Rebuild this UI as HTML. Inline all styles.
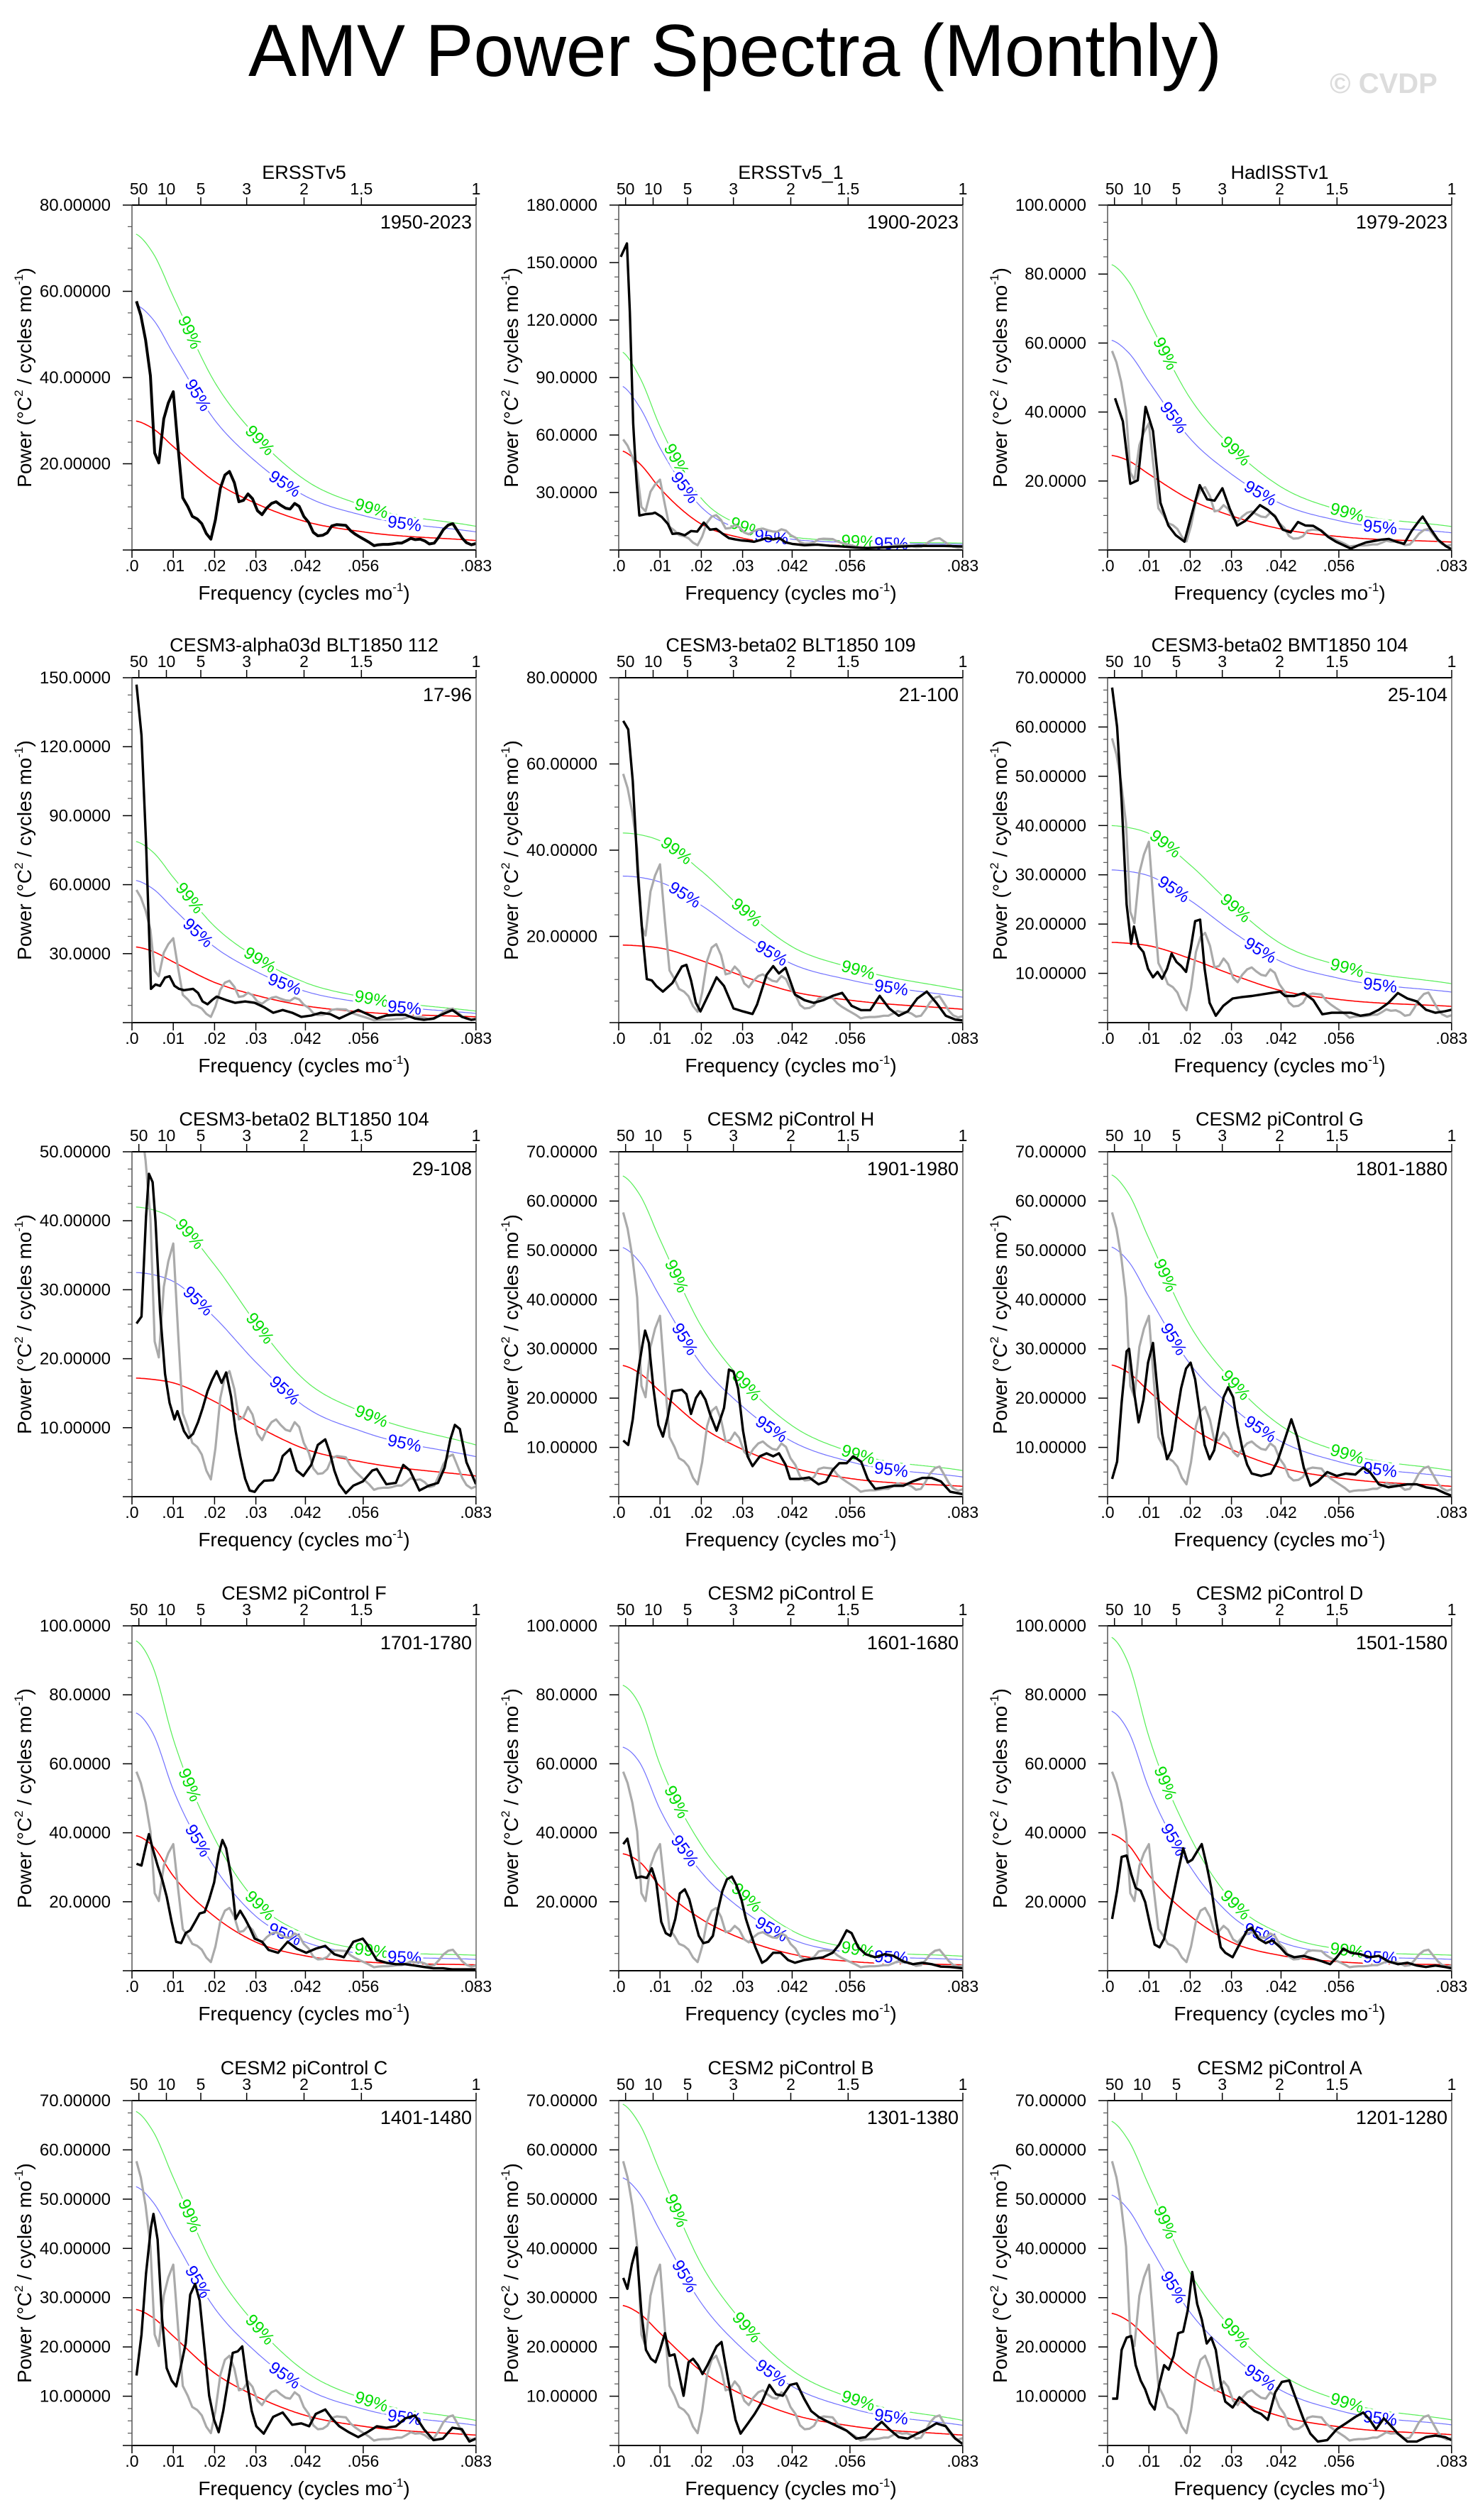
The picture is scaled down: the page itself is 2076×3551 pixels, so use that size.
<!DOCTYPE html>
<html><head><meta charset="utf-8">
<style>
html,body{margin:0;padding:0;background:#fff;}
svg{display:block;font-family:"Liberation Sans",sans-serif;}
</style></head>
<body>
<svg id="fig" xmlns="http://www.w3.org/2000/svg" width="2076" height="3551" viewBox="0 0 2076 3551">
<rect x="0" y="0" width="2076" height="3551" fill="#fff"/>
<text x="1036" y="107" font-size="104" text-anchor="middle" textLength="1372" lengthAdjust="spacingAndGlyphs">AMV Power Spectra (Monthly)</text>
<text x="1950" y="131" font-size="40" font-weight="bold" fill="#dcdcdc" text-anchor="middle">© CVDP</text>
</svg>
<script>
// ---------- data ----------
const CF = [0, 0.005, 0.01, 0.02, 0.03, 0.042, 0.056, 0.0833];
const periodTicks = [50, 10, 5, 3, 2, 1.5, 1];
const freqTicks = [0, 0.01, 0.02, 0.03, 0.042, 0.056, 0.0833];
const freqTickLabels = [".0", ".01", ".02", ".03", ".042", ".056", ".083"];

const f_p1 = [.00108,.00215,.0033,.00446,.0055,.0065,.0077,.0088,.0100,.0112,.0123,.0135,.0146,.0158,.0169,.018,.0191,.0202,.0214,.0225,.0236,.0248,.0259,.0270,.0281,.0292,.0304,.0315,.0326,.0338,.0349,.0360,.0372,.0383,.0394,.0405,.0416,.0428,.0439,.045,.0462,.0473,.0484,.0496,.0507,.0518,.0529,.0540,.0552,.0563,.0574,.0586,.0596,.0608,.062,.063,.0642,.0653,.0664,.0675,.0686,.0698,.0709,.072,.0732,.0743,.0754,.0766,.0777,.0788,.08,.081,.0822,.0833];
const v_p1 = [57.7,54.4,48.7,40.4,22.5,20.2,30.4,34.1,36.7,23.4,12.1,10.1,7.8,7.2,6.1,3.8,2.5,7.0,14.3,17.4,18.2,15.6,11.2,11.5,13.0,11.9,9.1,8.2,9.7,10.8,11.2,10.4,9.7,9.5,10.8,10.1,7.8,6.4,4.1,3.3,3.4,4.0,5.6,5.9,5.8,5.7,4.5,3.7,3.0,2.4,1.8,1.0,1.2,1.3,1.3,1.4,1.6,1.6,2.1,2.7,2.4,2.5,2.1,1.4,1.6,3.0,4.7,5.8,6.1,4.5,2.7,1.7,1.2,1.5];
const red_p1 = [30,28.2,24,15.9,10.8,6.6,4.2,2.2];
const blue_p1 = [57,53.6,45.6,30.2,20.5,12.5,8,4.2];
const green_p1 = [73.5,69,58.8,39,26.5,16.2,10.3,5.5];

const f_p2 = [.0005,.002,.0027,.0035,.0043,.005,.0066,.0081,.0088,.0104,.0119,.013,.0145,.016,.0175,.019,.0206,.0221,.0236,.0252,.0267,.0282,.0297,.0313,.0328,.0343,.0358,.0374,.0389,.0404,.042,.045,.0481,.0511,.0542,.0572,.0603,.0633,.0664,.0694,.0725,.0755,.0786,.0833];
const v_p2 = [153,160,124,66,36.6,18,18.7,19,19.5,17.3,13.6,8.4,8.7,7.7,9.9,9.6,14.3,10.6,11,8.4,6.2,5.5,5,4.7,4.3,5.2,6.2,5.5,6.2,4,3.2,2.5,2.8,2.2,1.8,1.3,1,1.3,1.6,1.9,2.2,2.1,2.1,1.9];
const red_p2 = [52,45.2,32.2,13.5,6.2,3.4,2.3,1.8];
const blue_p2 = [86,74.8,53.3,22.4,10.3,5.6,3.9,3];
const green_p2 = [104,90.5,64.5,27,12.5,6.8,4.7,3.6];

const f_p3 = [.0018,.0037,.0055,.0073,.0092,.011,.0128,.0147,.0165,.0186,.0204,.0223,.0241,.0259,.0278,.0296,.0314,.0333,.0351,.0369,.0388,.0406,.0424,.0443,.0461,.0479,.0498,.0516,.0534,.0553,.0571,.0589,.0608,.0626,.0644,.0663,.0681,.0699,.0718,.0736,.0754,.0763,.0781,.08,.0818,.0833];
const v_p3 = [44,37.3,19.2,20.2,41.5,34.5,13.7,7.1,4.3,2.4,10.4,18.8,14.7,14.3,17.9,11.9,7.1,8.4,10.6,13,11.6,9.6,5.9,5.1,8.1,7.1,7,5.7,3.8,2.4,1.4,0.4,1.4,2.2,2.6,3,3.2,2.4,1.8,5.5,8.4,9.7,6.3,3,1.2,0.2];
const red_p3 = [27.5,25.9,22,14.6,9.9,6.1,3.9,2.3];
const blue_p3 = [61,57.3,48.8,32.3,22,13.4,8.5,5];
const green_p3 = [83,78,66.4,44,29.9,18.3,11.6,6.8];

const f_p4 = [.0011,.0023,.0034,.0046,.0057,.0068,.008,.0091,.0103,.0114,.0126,.0148,.016,.0171,.0183,.0194,.0205,.0228,.025,.0274,.0297,.032,.0342,.0365,.0388,.041,.0434,.0457,.048,.0502,.0525,.0548,.057,.0593,.0616,.0639,.0662,.0685,.0707,.073,.0753,.0776,.0799,.0822,.0833];
const v_p4 = [147,125,78.5,14.7,16.6,16,19.6,20.2,16,14.7,14.1,14.7,12.9,9.2,8,9.8,11.3,9.8,8.6,9.2,8.6,6.7,4.3,5.5,4.3,2.5,3.1,4.3,3.7,1.8,3.7,5.5,3.7,1.8,3.1,3.4,3.4,1.8,1.2,1.8,3.7,5.5,2.5,1.2,1.5];
const red_p4 = [33,31,26.4,17.5,11.9,7.3,4.6,2.5];
const blue_p4 = [62,58.3,49.6,32.9,22.3,13.6,8.7,4];
const green_p4 = [79,74.3,63.2,41.9,28.4,17.4,11.1,5];

const f_p5 = [.0011,.0023,.0034,.0046,.0057,.0068,.008,.0091,.0107,.013,.0153,.0164,.0175,.0187,.0198,.0221,.0237,.0255,.0278,.0301,.0324,.0335,.0358,.0374,.0388,.0404,.0427,.045,.0472,.0495,.0518,.0541,.0564,.0587,.0609,.0632,.0655,.0678,.07,.0723,.0746,.0769,.0792,.0815,.0833];
const v_p5 = [70,68,56,35,21,10.1,9.8,8.5,7.2,9.2,13,13.4,9.8,4.6,2.6,7.2,10.5,8.5,3.3,2.6,2,4.2,11.1,13.1,11.4,12.7,6.5,5.2,4.6,5.2,6.2,6.9,3.9,2.9,2.9,6.2,3.3,1.6,2.6,5.6,7.2,4.6,1.6,0.7,0.5];
const red_p5 = [18,17.8,17.3,14.4,10.8,7.2,5.2,3.1];
const blue_p5 = [34,33.7,32.6,27.2,20.4,13.6,9.9,5.9];
const green_p5 = [44,43.6,42.2,35.2,26.4,17.6,12.8,7.5];

const f_p6 = [.0011,.0023,.0034,.0046,.0057,.0064,.0075,.0087,.0098,.011,.0121,.0132,.0144,.0155,.0167,.0178,.019,.0201,.0212,.0224,.0235,.0247,.0262,.028,.0303,.0326,.0349,.0372,.0395,.0418,.043,.0452,.0475,.0498,.052,.0543,.0566,.0589,.0612,.0635,.0657,.068,.0703,.0726,.0749,.0771,.0794,.0817,.0833];
const v_p6 = [68,60,45,24,16,19.5,15.5,14.3,10.9,9.2,10.3,8.9,10.9,14,12.3,11.5,10.3,14.9,20.6,20.9,10.9,4,1.4,3.4,4.9,5.2,5.4,5.7,6,6.3,5.4,5.4,6,4.6,1.7,2,2,2,1.4,1.7,2.6,4,6,4.9,4.3,2.6,2,2.3,2.6];
const red_p6 = [16.3,16.1,15.6,13,9.8,6.5,4.7,3.3];
const blue_p6 = [31,30.7,29.8,24.8,18.6,12.4,9,6.2];
const green_p6 = [40,39.6,38.4,32,24,16,11.6,7.9];

const f_p7 = [.0011,.0023,.0034,.0041,.005,.0057,.0068,.008,.0091,.0103,.011,.0126,.0137,.0148,.016,.0171,.0183,.0194,.0205,.0217,.0228,.024,.0251,.0262,.0274,.0285,.0297,.0308,.032,.0342,.0354,.0365,.0383,.0399,.0415,.0434,.045,.0468,.0479,.049,.0502,.0518,.0536,.0559,.0582,.0593,.0616,.0639,.0657,.0673,.0696,.0719,.0741,.0757,.0771,.0782,.0794,.081,.0833];
const v_p7 = [25.1,26.1,40.6,46.8,45.6,39.9,26.8,17.8,13.6,11.2,12.4,9.5,8.5,9.1,10.8,12.8,15.3,16.9,18.2,16.5,18,14.5,9.5,5.9,2.6,0.9,0.7,1.6,2.3,2.4,3.6,5.9,6.9,3.8,3,4.6,7.5,8.3,6.4,3.8,1.8,0.5,1.6,2.2,3.8,4,1.8,2,4.6,3.8,0.9,1.6,2,4.2,8.3,10.4,9.8,5,1.8];
const red_p7 = [17.2,17,16.5,13.8,10.3,6.9,5,3];
const blue_p7 = [32.5,32.2,31.2,26,19.5,13,9.4,5.8];
const green_p7 = [42,41.6,40.3,33.6,25.2,16.8,12.2,7.5];

const f_p8 = [.0011,.0023,.0034,.0046,.0057,.0064,.0073,.0084,.0096,.0107,.0119,.013,.0153,.0164,.0175,.0187,.0198,.021,.0221,.0237,.0255,.0267,.0278,.0289,.0301,.0312,.0324,.0342,.0358,.0374,.0388,.0404,.0415,.0438,.0461,.0484,.0502,.0518,.0534,.0552,.0568,.0587,.0603,.0621,.0644,.0666,.0689,.0712,.0735,.0758,.078,.0803,.0833];
const v_p8 = [11.4,10.5,15.7,24.9,30.6,33.7,31.2,22,14.5,12.2,16.3,21.4,21.7,20.8,16.8,20,21.4,19.7,16.8,13.4,18,25.8,25.4,22,13.4,8.2,6.2,8.2,8.8,8.2,8.8,6.5,3.6,3.6,3.9,2.5,3.1,5.4,6.8,6.8,8.2,7.1,3.6,1.6,1.9,2.2,2.2,3.1,3.8,3.8,3.1,1,0.5];
const red_p8 = [26.7,25.1,21.4,14.2,9.6,5.9,3.7,2.1];
const blue_p8 = [50.7,47.7,40.6,26.9,18.3,11.2,7.1,4];
const green_p8 = [65.3,61.4,52.2,34.6,23.5,14.4,9.1,5.3];

const f_p9 = [.0011,.0023,.0034,.0046,.0052,.0064,.0075,.0087,.0098,.011,.0121,.0132,.0144,.0155,.0167,.0178,.019,.0201,.0212,.0224,.0235,.0247,.0258,.0269,.0281,.0292,.0304,.0315,.0326,.0338,.0349,.0372,.0395,.0411,.0429,.0445,.0459,.0475,.0491,.0509,.0532,.0555,.0577,.06,.0619,.0635,.0657,.068,.0703,.0726,.0749,.0771,.0794,.0817,.0833];
const v_p9 = [3.6,7.1,19.1,29.5,30,21.4,15.1,19.7,27.2,31.2,21.4,12.8,7.6,9.4,16.3,22,26,27.2,23.8,16.8,10.5,7.6,9.4,14.5,20.2,22.2,20.2,14.5,9.9,6.5,4.7,4.2,4.7,7.1,11.6,15.7,12.2,5.9,2.2,3.1,5,4.2,4.7,4.5,5.9,5,2.5,1.9,2.2,2.5,2.5,1.9,1.6,0.7,0.2];
const red_p9 = [26.8,25.2,21.4,14.2,9.6,5.9,3.8,2.1];
const blue_p9 = [50.8,47.8,40.6,26.9,18.3,11.2,7.1,4];
const green_p9 = [65.5,61.6,52.4,34.7,23.6,14.4,9.2,5.3];

const f_p10 = [.0011,.0023,.0034,.0041,.005,.0062,.0073,.0084,.0096,.0107,.0119,.013,.0141,.0153,.0164,.0176,.0187,.0199,.021,.0219,.0228,.024,.0251,.0262,.0274,.0285,.0297,.0315,.0331,.0354,.0377,.0399,.0422,.0445,.0468,.049,.0513,.0536,.0559,.057,.0593,.0616,.0639,.0662,.0685,.0707,.073,.0753,.0776,.0799,.0833];
const v_p10 = [31,30.5,36.3,39.6,35.5,30.5,26.5,21.5,14.2,8.4,8,10.9,11.7,14.2,16.6,17,20.7,25.6,33.8,37.9,35.5,27.3,15,17.4,15,12.5,9.3,8.4,6,5.2,8.4,6.4,5.2,6.4,7.2,4.8,3.9,8.4,9.3,7.6,3.1,2.3,1.9,1.9,1.5,1.1,0.7,0.7,0.4,0.4,0.4];
const red_p10 = [39.3,36.2,27.5,15.7,8.3,4.3,2.6,1.7];
const blue_p10 = [75,69,52.5,30,15.8,8.3,4.9,3.3];
const green_p10 = [96,88.3,67.2,38.4,20.2,10.6,6.2,4.5];

const f_p11 = [.0011,.0021,.0032,.0043,.0055,.0068,.008,.0091,.0103,.0114,.0125,.0137,.0148,.016,.0171,.0183,.0194,.0205,.0217,.0228,.024,.0251,.0262,.0274,.0285,.0297,.0308,.0319,.0331,.0347,.0358,.0374,.0392,.041,.0427,.045,.0472,.0495,.0518,.0534,.0552,.0564,.058,.0598,.0621,.0644,.0666,.0689,.0712,.0735,.0758,.078,.0803,.0833];
const v_p11 = [36.7,38.3,32.2,26.9,27.3,26.9,29.7,25.6,14.2,10.9,10.1,15,22.4,23.6,20.7,15,10.1,8,8.4,10.1,17.4,23.1,26.5,27.3,24.8,20.7,15,10.9,6.8,2.3,3.1,5.2,5.2,3.1,2.3,3.1,3.5,3.9,5.2,7.6,11.7,10.9,6.8,4.8,3.9,4.8,4.3,2.7,1.9,2.3,1.9,1.2,1.1,0.7];
const red_p11 = [34,31.6,24.5,15,9.2,4.8,2.7,1.7];
const blue_p11 = [65,60.5,46.8,28.6,17.6,9.1,5.2,3.2];
const green_p11 = [83,77.2,59.8,36.5,22.4,11.6,6.6,4.2];

const f_p12 = [.0011,.0023,.0034,.0046,.0057,.0068,.008,.0091,.0103,.0114,.0126,.0137,.0148,.016,.0171,.0183,.0194,.0205,.0217,.0228,.024,.0251,.0262,.0274,.0285,.0303,.0319,.0338,.0349,.0365,.0383,.0399,.0418,.0433,.0452,.0475,.0498,.052,.0539,.0555,.0571,.0589,.0612,.0635,.0657,.068,.0703,.0726,.0749,.0771,.0794,.0817,.0833];
const v_p12 = [15,23.2,33,33.4,28.1,24,23.2,19.9,13.3,7.6,6.8,9.3,15.8,22.4,28.9,35.5,31.4,32.2,34.6,36.7,30.5,24,15,6.8,5.2,3.9,7.6,11.7,12.5,9.3,8,8.8,6.8,4.8,3.9,4.3,3.5,2.7,1.9,3.9,6.4,5.2,4.8,3.9,4.3,2.7,1.9,2.3,1.5,1.1,1.5,1.1,0.7];
const red_p12 = [39.7,36.5,27.8,15.9,8.3,4.4,2.6,1.7];
const blue_p12 = [75.5,69.5,52.9,30.2,15.9,8.3,4.9,3.3];
const green_p12 = [97,89.2,67.9,38.8,20.4,10.7,6.3,4.5];

const f_p13 = [.0011,.0023,.0034,.0046,.0052,.0062,.0073,.0084,.0096,.0107,.0119,.013,.0141,.0153,.0164,.0176,.0187,.0199,.021,.0221,.0233,.0244,.0256,.0267,.0278,.029,.0301,.0319,.0342,.0365,.0388,.041,.0429,.0445,.0468,.0484,.0502,.0525,.0548,.057,.0593,.0616,.0639,.0662,.0685,.0707,.073,.0753,.0776,.0799,.0817,.0833];
const v_p13 = [14.2,22.5,34.9,44.3,47,41.8,25.6,15.7,13.2,12,16.3,20.7,30.6,32.8,29.4,19.4,10.1,5.2,2.7,7,13.2,18.8,19.1,20.1,13.2,7,3.9,2.4,5.8,6.7,4.2,4.5,3.9,6.4,7.3,5.5,3.9,2.7,1.7,2.7,3.9,3.6,3.9,5.5,6.1,3.3,1.1,1.4,3.6,3.3,0.8,1.4];
const red_p13 = [27.7,26,22.2,14.7,10,6.1,3.9,2.1];
const blue_p13 = [52.7,49.5,42.2,27.9,19,11.6,7.4,4.1];
const green_p13 = [68,63.9,54.4,36,24.5,15,9.5,5.1];

const f_p14 = [.0011,.0021,.0032,.0043,.0055,.0066,.0078,.0089,.01,.0112,.0123,.0135,.0146,.0157,.0169,.018,.0192,.0203,.0215,.0226,.0237,.0249,.026,.0272,.0283,.0295,.0313,.0329,.0347,.0365,.0381,.0397,.0415,.0431,.0449,.0466,.0484,.0507,.0529,.0552,.0575,.0598,.0621,.0637,.0655,.0678,.07,.0723,.0746,.0769,.0792,.0815,.0833];
const v_p14 = [34,31.8,36.8,40.2,26.9,19.4,17.6,16.9,19.4,22.8,18.2,18.5,14.5,10.1,16.9,17.6,16.3,14.5,16.3,18.2,20.1,21,15.7,10.1,5.2,2.4,4.5,6.4,8.9,12.3,10.4,10.1,12.3,12.6,9.5,7,5.8,4.8,3.9,3,1.4,1.7,3.6,4.8,3.3,1.7,1.4,2.4,3.3,4.5,3.9,1.4,0.3];
const red_p14 = [28.5,26.8,22.8,15.1,10.3,6.3,4,2.1];
const blue_p14 = [54.5,51.2,43.6,28.9,19.6,12,7.6,4.1];
const green_p14 = [69.5,65.3,55.6,36.8,25,15.3,9.7,5.1];

const f_p15 = [.0011,.0023,.0034,.0046,.0057,.0068,.008,.0091,.0103,.0114,.0126,.0137,.0148,.016,.0171,.0183,.0194,.0205,.0217,.0228,.024,.0251,.0262,.0274,.0285,.0303,.0319,.0338,.0356,.0372,.0388,.0406,.0422,.044,.0456,.0475,.0491,.0509,.0532,.0555,.0577,.06,.0619,.0635,.065,.0669,.0687,.0703,.0726,.0749,.0771,.0794,.0817,.0833];
const v_p15 = [9.5,9.5,19.4,21.9,22.2,16.3,13.2,11.4,8.6,7.3,12.6,16.3,15.4,18.2,22.8,23.1,27.4,35.2,28.7,25.6,20.7,21.9,19.4,12.6,8.9,7.7,9.8,8.3,7,6.4,5.2,10.8,12.9,13.2,9.5,5.2,2.4,0.8,1.1,3.3,4.5,5.8,6.7,5.2,3.3,5.5,3.9,2.4,0.8,0.8,1.7,2,1.7,1.1];
const red_p15 = [26.9,25.3,21.5,14.3,9.7,5.9,3.8,2.2];
const blue_p15 = [51,47.9,40.8,27,18.4,11.2,7.1,4.2];
const green_p15 = [66,62,52.8,35,23.8,14.5,9.2,5.2];

const panelTitles = ["ERSSTv5","ERSSTv5_1","HadISSTv1","CESM3-alpha03d BLT1850 112","CESM3-beta02 BLT1850 109","CESM3-beta02 BMT1850 104","CESM3-beta02 BLT1850 104","CESM2 piControl H","CESM2 piControl G","CESM2 piControl F","CESM2 piControl E","CESM2 piControl D","CESM2 piControl C","CESM2 piControl B","CESM2 piControl A"];
const panelYears = ["1950-2023","1900-2023","1979-2023","17-96","21-100","25-104","29-108","1901-1980","1801-1880","1701-1780","1601-1680","1501-1580","1401-1480","1301-1380","1201-1280"];
const panelYMax = [80,180,100,150,80,70,50,70,70,100,100,100,70,70,70];
const panelYStep = [20,30,20,30,20,10,10,10,10,20,20,20,10,10,10];

const F = [f_p1,f_p2,f_p3,f_p4,f_p5,f_p6,f_p7,f_p8,f_p9,f_p10,f_p11,f_p12,f_p13,f_p14,f_p15];
const V = [v_p1,v_p2,v_p3,v_p4,v_p5,v_p6,v_p7,v_p8,v_p9,v_p10,v_p11,v_p12,v_p13,v_p14,v_p15];
const RED = [red_p1,red_p2,red_p3,red_p4,red_p5,red_p6,red_p7,red_p8,red_p9,red_p10,red_p11,red_p12,red_p13,red_p14,red_p15];
const BLUE = [blue_p1,blue_p2,blue_p3,blue_p4,blue_p5,blue_p6,blue_p7,blue_p8,blue_p9,blue_p10,blue_p11,blue_p12,blue_p13,blue_p14,blue_p15];
const GREEN = [green_p1,green_p2,green_p3,green_p4,green_p5,green_p6,green_p7,green_p8,green_p9,green_p10,green_p11,green_p12,green_p13,green_p14,green_p15];

// ---------- layout ----------
const NS = "http://www.w3.org/2000/svg";
const svg = document.getElementById("fig");
const colX = [186, 872, 1561];
const rowY = [289, 955, 1623, 2291, 2960];
const PW = 485, PH = 486, FMAX = 1/12;

function mk(tag, attrs, parent) {
  const e = document.createElementNS(NS, tag);
  for (const k in attrs) e.setAttribute(k, attrs[k]);
  parent.appendChild(e);
  return e;
}
function monotone(xs, ys) {
  const n = xs.length, d = [], m = new Array(n);
  for (let i = 0; i < n - 1; i++) d.push((ys[i+1]-ys[i])/(xs[i+1]-xs[i]));
  m[0] = 0; m[n-1] = d[n-2];
  for (let i = 1; i < n - 1; i++) {
    if (d[i-1]*d[i] <= 0) { m[i] = 0; continue; }
    const h0 = xs[i]-xs[i-1], h1 = xs[i+1]-xs[i];
    m[i] = (d[i-1]*h1 + d[i]*h0)/(h0+h1);
  }
  for (let i = 0; i < n - 1; i++) {
    if (d[i] === 0) { m[i] = 0; m[i+1] = 0; continue; }
    const a = m[i]/d[i], b = m[i+1]/d[i], s = a*a + b*b;
    if (s > 9) { const t = 3/Math.sqrt(s); m[i] = t*a*d[i]; m[i+1] = t*b*d[i]; }
  }
  return function(x) {
    let i = 0;
    while (i < n - 2 && x > xs[i+1]) i++;
    const h = xs[i+1]-xs[i], t = (x - xs[i])/h;
    const h00 = 2*t*t*t - 3*t*t + 1, h10 = t*t*t - 2*t*t + t, h01 = -2*t*t*t + 3*t*t, h11 = t*t*t - t*t;
    return h00*ys[i] + h10*h*m[i] + h01*ys[i+1] + h11*h*m[i+1];
  };
}
function fmt(v, ymax) { return v.toFixed(ymax >= 100 ? 4 : 5); }

for (let p = 0; p < 15; p++) {
  const L = colX[p % 3], T = rowY[Math.floor(p / 3)];
  const ymax = panelYMax[p], ystep = panelYStep[p];
  const xs = f => L + f / FMAX * PW;
  const ys = v => T + PH - v / ymax * PH;
  const g = mk("g", {}, svg);
  
  

  const clipId = "clip" + p;
  const cp = mk("clipPath", {id: clipId}, g);
  mk("rect", {x: L, y: T, width: PW, height: PH}, cp);

  const curves = [[RED[p], "#ff0000", 1.6, "red-noise-curve"], [BLUE[p], "#7070ff", 1.2, "ci-95-curve"], [GREEN[p], "#55ee55", 1.2, "ci-99-curve"]];
  const fns = [];
  curves.forEach(c => {
    const fn = monotone(CF, c[0]);
    fns.push(fn);
    let d = "";
    for (let k = 0; k <= 200; k++) {
      const f = 0.001 + (FMAX - 0.001) * k / 200;
      d += (k ? "L" : "M") + xs(f).toFixed(1) + "," + ys(fn(f)).toFixed(1);
    }
    const path = mk("path", {d: d, fill: "none", stroke: c[1], "stroke-width": c[2], "clip-path": "url(#" + clipId + ")"}, g);
    
    
  });
  const labSpec = [[fns[2], "99%", "#00dd00", [0.014, 0.031, 0.058]], [fns[1], "95%", "#0000ff", [0.016, 0.037, 0.066]]];
  labSpec.forEach(ls => {
    ls[3].forEach(f => {
      const x = xs(f), y = ys(ls[0](f));
      const x2 = xs(f + 0.0005), y2 = ys(ls[0](f + 0.0005));
      const ang = Math.atan2(y2 - y, x2 - x) * 180 / Math.PI;
      const t = mk("text", {x: x, y: y + 8, "font-size": 24, fill: ls[2], "text-anchor": "middle", stroke: "#fff", "stroke-width": 7, "paint-order": "stroke", transform: "rotate(" + ang.toFixed(1) + " " + x.toFixed(1) + " " + y.toFixed(1) + ")"}, g);
      t.textContent = ls[1];
      
      
    });
  });
  if (p > 0) {
    let pts = f_p1.map((f, i) => xs(f).toFixed(1) + "," + ys(v_p1[i]).toFixed(1)).join(" ");
    const gl = mk("polyline", {points: pts, fill: "none", stroke: "#aaaaaa", "stroke-width": 3.2, "stroke-linejoin": "round", "clip-path": "url(#" + clipId + ")"}, g);
    
    
  }
  const n = Math.min(F[p].length, V[p].length);
  let pts = "";
  for (let i = 0; i < n; i++) pts += xs(F[p][i]).toFixed(1) + "," + ys(V[p][i]).toFixed(1) + " ";
  const bl = mk("polyline", {points: pts, fill: "none", stroke: "#000", "stroke-width": p === 0 ? 4 : 3.4, "stroke-linejoin": "round", "clip-path": "url(#" + clipId + ")"}, g);
  
  

  const fr = [[L, T, L + PW, T, "#000", 2, "top-axis"], [L, T + PH, L + PW, T + PH, "#000", 2, "bottom-axis"], [L, T, L, T + PH, "#555", 1.5, "left-axis"], [L + PW, T, L + PW, T + PH, "#666", 1.5, "right-axis"]];
  fr.forEach(a => {
    const ln = mk("line", {x1: a[0], y1: a[1], x2: a[2], y2: a[3], stroke: a[4], "stroke-width": a[5]}, g);
    
    
  });
  for (let v = 0; v <= ymax + 1e-9; v += ystep / 4) {
    const major = Math.abs(v / ystep - Math.round(v / ystep)) < 1e-6;
    const tk = mk("line", {x1: L - (major ? 13 : 6), y1: ys(v), x2: L, y2: ys(v), stroke: major ? "#000" : "#555", "stroke-width": major ? 1.5 : 1.2}, g);
    
    
    if (major && v > 0) {
      const tl = mk("text", {x: L - 30, y: ys(v) + 8, "font-size": 24, "text-anchor": "end"}, g);
      tl.textContent = fmt(v, ymax);
      
      
    }
  }
  freqTicks.forEach((f, i) => {
    const tk = mk("line", {x1: xs(f), y1: T + PH, x2: xs(f), y2: T + PH + 11, stroke: "#000", "stroke-width": 1.5}, g);
    
    
    const tl = mk("text", {x: xs(f), y: T + PH + 30, "font-size": 23, "text-anchor": "middle"}, g);
    tl.textContent = freqTickLabels[i];
    
    
  });
  periodTicks.forEach(P => {
    const f = 1 / (12 * P);
    const tk = mk("line", {x1: xs(f), y1: T, x2: xs(f), y2: T - 11, stroke: "#000", "stroke-width": 1.5}, g);
    
    
    const tl = mk("text", {x: xs(f), y: T - 15, "font-size": 23, "text-anchor": "middle"}, g);
    tl.textContent = String(P);
    
    
  });
  const tt = mk("text", {x: L + PW / 2, y: T - 37, "font-size": 27, "text-anchor": "middle"}, g);
  tt.textContent = panelTitles[p];
  
  
  const yr = mk("text", {x: L + PW - 6, y: T + 33, "font-size": 27, "text-anchor": "end"}, g);
  yr.textContent = panelYears[p];
  
  
  const xt = mk("text", {x: L + PW / 2, y: T + PH + 70, "font-size": 28, "text-anchor": "middle"}, g);
  xt.innerHTML = 'Frequency (cycles mo<tspan font-size="17" dy="-12">-1</tspan><tspan dy="12">)</tspan>';
  
  
  const cy = T + PH / 2, cx = L - 142;
  const yt = mk("text", {x: cx, y: cy, "font-size": 28, "text-anchor": "middle", transform: "rotate(-90 " + cx + " " + cy + ")"}, g);
  yt.innerHTML = 'Power (°C<tspan font-size="17" dy="-12">2</tspan><tspan dy="12"> / cycles mo</tspan><tspan font-size="17" dy="-12">-1</tspan><tspan dy="12">)</tspan>';
  
  
}
</script>
</body></html>
